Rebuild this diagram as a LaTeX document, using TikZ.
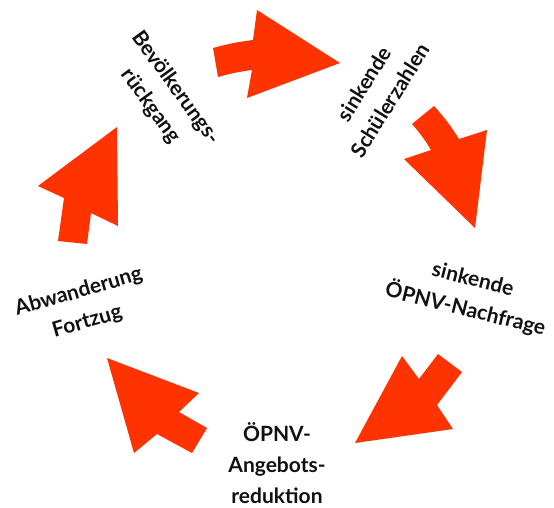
\documentclass[tikz,border=0pt]{standalone}
\usepackage{fontspec}
\setmainfont{Lato}
\usetikzlibrary{positioning}
\definecolor{cycleRed}{HTML}{FF3300}
\definecolor{cycleText}{HTML}{111111}
\tikzset{
    cycleLabel/.style={
        font=\fontsize{21}{31}\selectfont\bfseries,
        text=cycleText,
        align=center,
        inner sep=0pt
    },
    % Block arrows
    blockArrow/.style={fill=cycleRed, draw=none}
}

\begin{document}
\begin{tikzpicture}[x=1pt, y=-1pt]
    \useasboundingbox (0,0) rectangle (554,507);
    \node[cycleLabel, rotate=-54] (bev) at (163,97) {Bevölkerungs-\\rückgang};
    \node[cycleLabel, rotate=58] (schueler) at (377,92) {sinkende\\Schülerzahlen};
    \node[cycleLabel, rotate=-14] (nachfrage) at (469,295) {sinkende\\ÖPNV-Nachfrage};
    \node[cycleLabel] (angebot) at (277,463) {ÖPNV-\\Angebots-\\reduktion};
    \node[cycleLabel, rotate=16] (abwanderung) at (83,307) {Abwanderung\\Fortzug};
    % Arrows
    \fill[blockArrow] (213,48) to[bend left=4] (253,40) -- (257,10) -- (340,63) -- (247,98) -- (252,70) to[bend right=4] (218,77) -- cycle;
    \fill[blockArrow] (434,106) to[bend left=5] (459,139) -- (487,130) -- (475,228) -- (404,159) -- (431,150) to[bend right=5] (412,124) -- cycle;
    \fill[blockArrow] (438,354) -- (462,372) -- (437,405) -- (453,429) -- (355,443) -- (402,356) -- (419,379) -- cycle;
    \fill[blockArrow] (107,358) -- (199,393) -- (179,412) -- (207,428) -- (192,453) -- (157,434) -- (134,453) -- cycle;
    \fill[blockArrow] (58,241) -- (87,244) -- (91,213) -- (118,226) -- (117,127) -- (38,186) -- (64,198) -- cycle;
\end{tikzpicture}
\end{document}
